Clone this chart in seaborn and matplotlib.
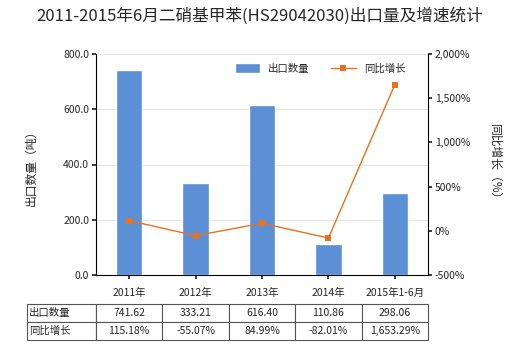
import matplotlib
matplotlib.use("Agg")
import matplotlib.pyplot as plt
import seaborn as sns
import pandas as pd
import numpy as np

categories = ["2011年", "2012年", "2013年", "2014年", "2015年1-6月"]
export_qty = [741.62, 333.21, 616.40, 110.86, 298.06]
growth_pct = [115.18, -55.07, 84.99, -82.01, 1653.29]
qty_labels = ["741.62", "333.21", "616.40", "110.86", "298.06"]
growth_labels = ["115.18%", "-55.07%", "84.99%", "-82.01%", "1,653.29%"]
title = "2011-2015年6月二硝基甲苯(HS29042030)出口量及增速统计"

sns.set_theme(style="white")
plt.rcParams['font.family'] = ['Noto Sans CJK SC', 'DejaVu Sans']

bar_color = "#5B8FD6"
line_color = "#E8711F"

df = pd.DataFrame({"cat": categories, "qty": export_qty, "growth": growth_pct})

fig = plt.figure(figsize=(5.2, 3.5), dpi=100)
ax = fig.add_axes([96/520, 1-275/350, (428-96)/520, (275-54)/350])

sns.barplot(data=df, x="cat", y="qty", color=bar_color, width=0.4, ax=ax,
            saturation=1, label="出口数量")
ax.set_ylim(0, 800)
ax.set_yticks([0, 200, 400, 600, 800])
ax.set_yticklabels([f"{v:.1f}" for v in [0, 200, 400, 600, 800]], fontsize=7.5)
ax.set_xlabel("")
ax.set_ylabel("出口数量（吨）", fontsize=8.5, labelpad=18)
ax.tick_params(axis='x', labelsize=7.5, length=3, direction='out', pad=6)
ax.tick_params(axis='y', length=3, direction='out', left=True, pad=2)
ax.tick_params(axis='x', bottom=True)
ax.grid(axis='y', color='#e6e6e6', linewidth=0.8)
ax.set_axisbelow(True)
for s in ["top", "right"]:
    ax.spines[s].set_visible(False)
for s in ["left", "bottom"]:
    ax.spines[s].set_color("black")
    ax.spines[s].set_linewidth(0.8)

ax2 = ax.twinx()
sns.lineplot(x=np.arange(len(categories)), y=growth_pct, color=line_color,
             marker="s", markersize=4, markeredgewidth=0, linewidth=1,
             ax=ax2, label="同比增长")
ax2.set_ylim(-500, 2000)
rt = [-500, 0, 500, 1000, 1500, 2000]
ax2.set_yticks(rt)
ax2.set_yticklabels([f"{v:,}%" for v in rt], fontsize=7.5)
ax2.tick_params(axis='y', length=3, direction='out', right=True, pad=2)
ax2.set_ylabel("同比增长（%）", fontsize=8.5, rotation=270, labelpad=22)
for s in ["top", "left", "bottom"]:
    ax2.spines[s].set_visible(False)
ax2.spines["right"].set_color("black")
ax2.spines["right"].set_linewidth(0.8)
ax2.grid(False)
ax.set_xlim(-0.5, len(categories)-0.5)

# legend
h1, l1 = ax.get_legend_handles_labels()
h2, l2 = ax2.get_legend_handles_labels()
if ax.get_legend():
    ax.get_legend().remove()
ax2.legend(h1 + h2, l1 + l2, loc="upper center", bbox_to_anchor=(0.675, 1.0),
           ncol=2, frameon=False, fontsize=7.5, handlelength=2.4,
           handleheight=1.1, columnspacing=2.0)

fig.suptitle(title, fontsize=12, y=0.98)

# table
cell_text = [["出口数量"] + qty_labels, ["同比增长"] + growth_labels]
x0 = (27-96)/332
tbl = ax.table(cellText=cell_text, cellLoc="center",
               bbox=[x0, (275-340)/221, 1 - x0, 36/221],
               colWidths=[69/401] + [66.4/401]*5)
tbl.auto_set_font_size(False)
tbl.set_fontsize(7.5)
for (r, c), cell in tbl.get_celld().items():
    cell.set_edgecolor("#555555")
    cell.set_linewidth(0.8)
    if c == 0:
        cell._loc = "left"
        cell.set_text_props(ha="left")
        cell.PAD = 0.03

fig.savefig("out.png", dpi=100)
